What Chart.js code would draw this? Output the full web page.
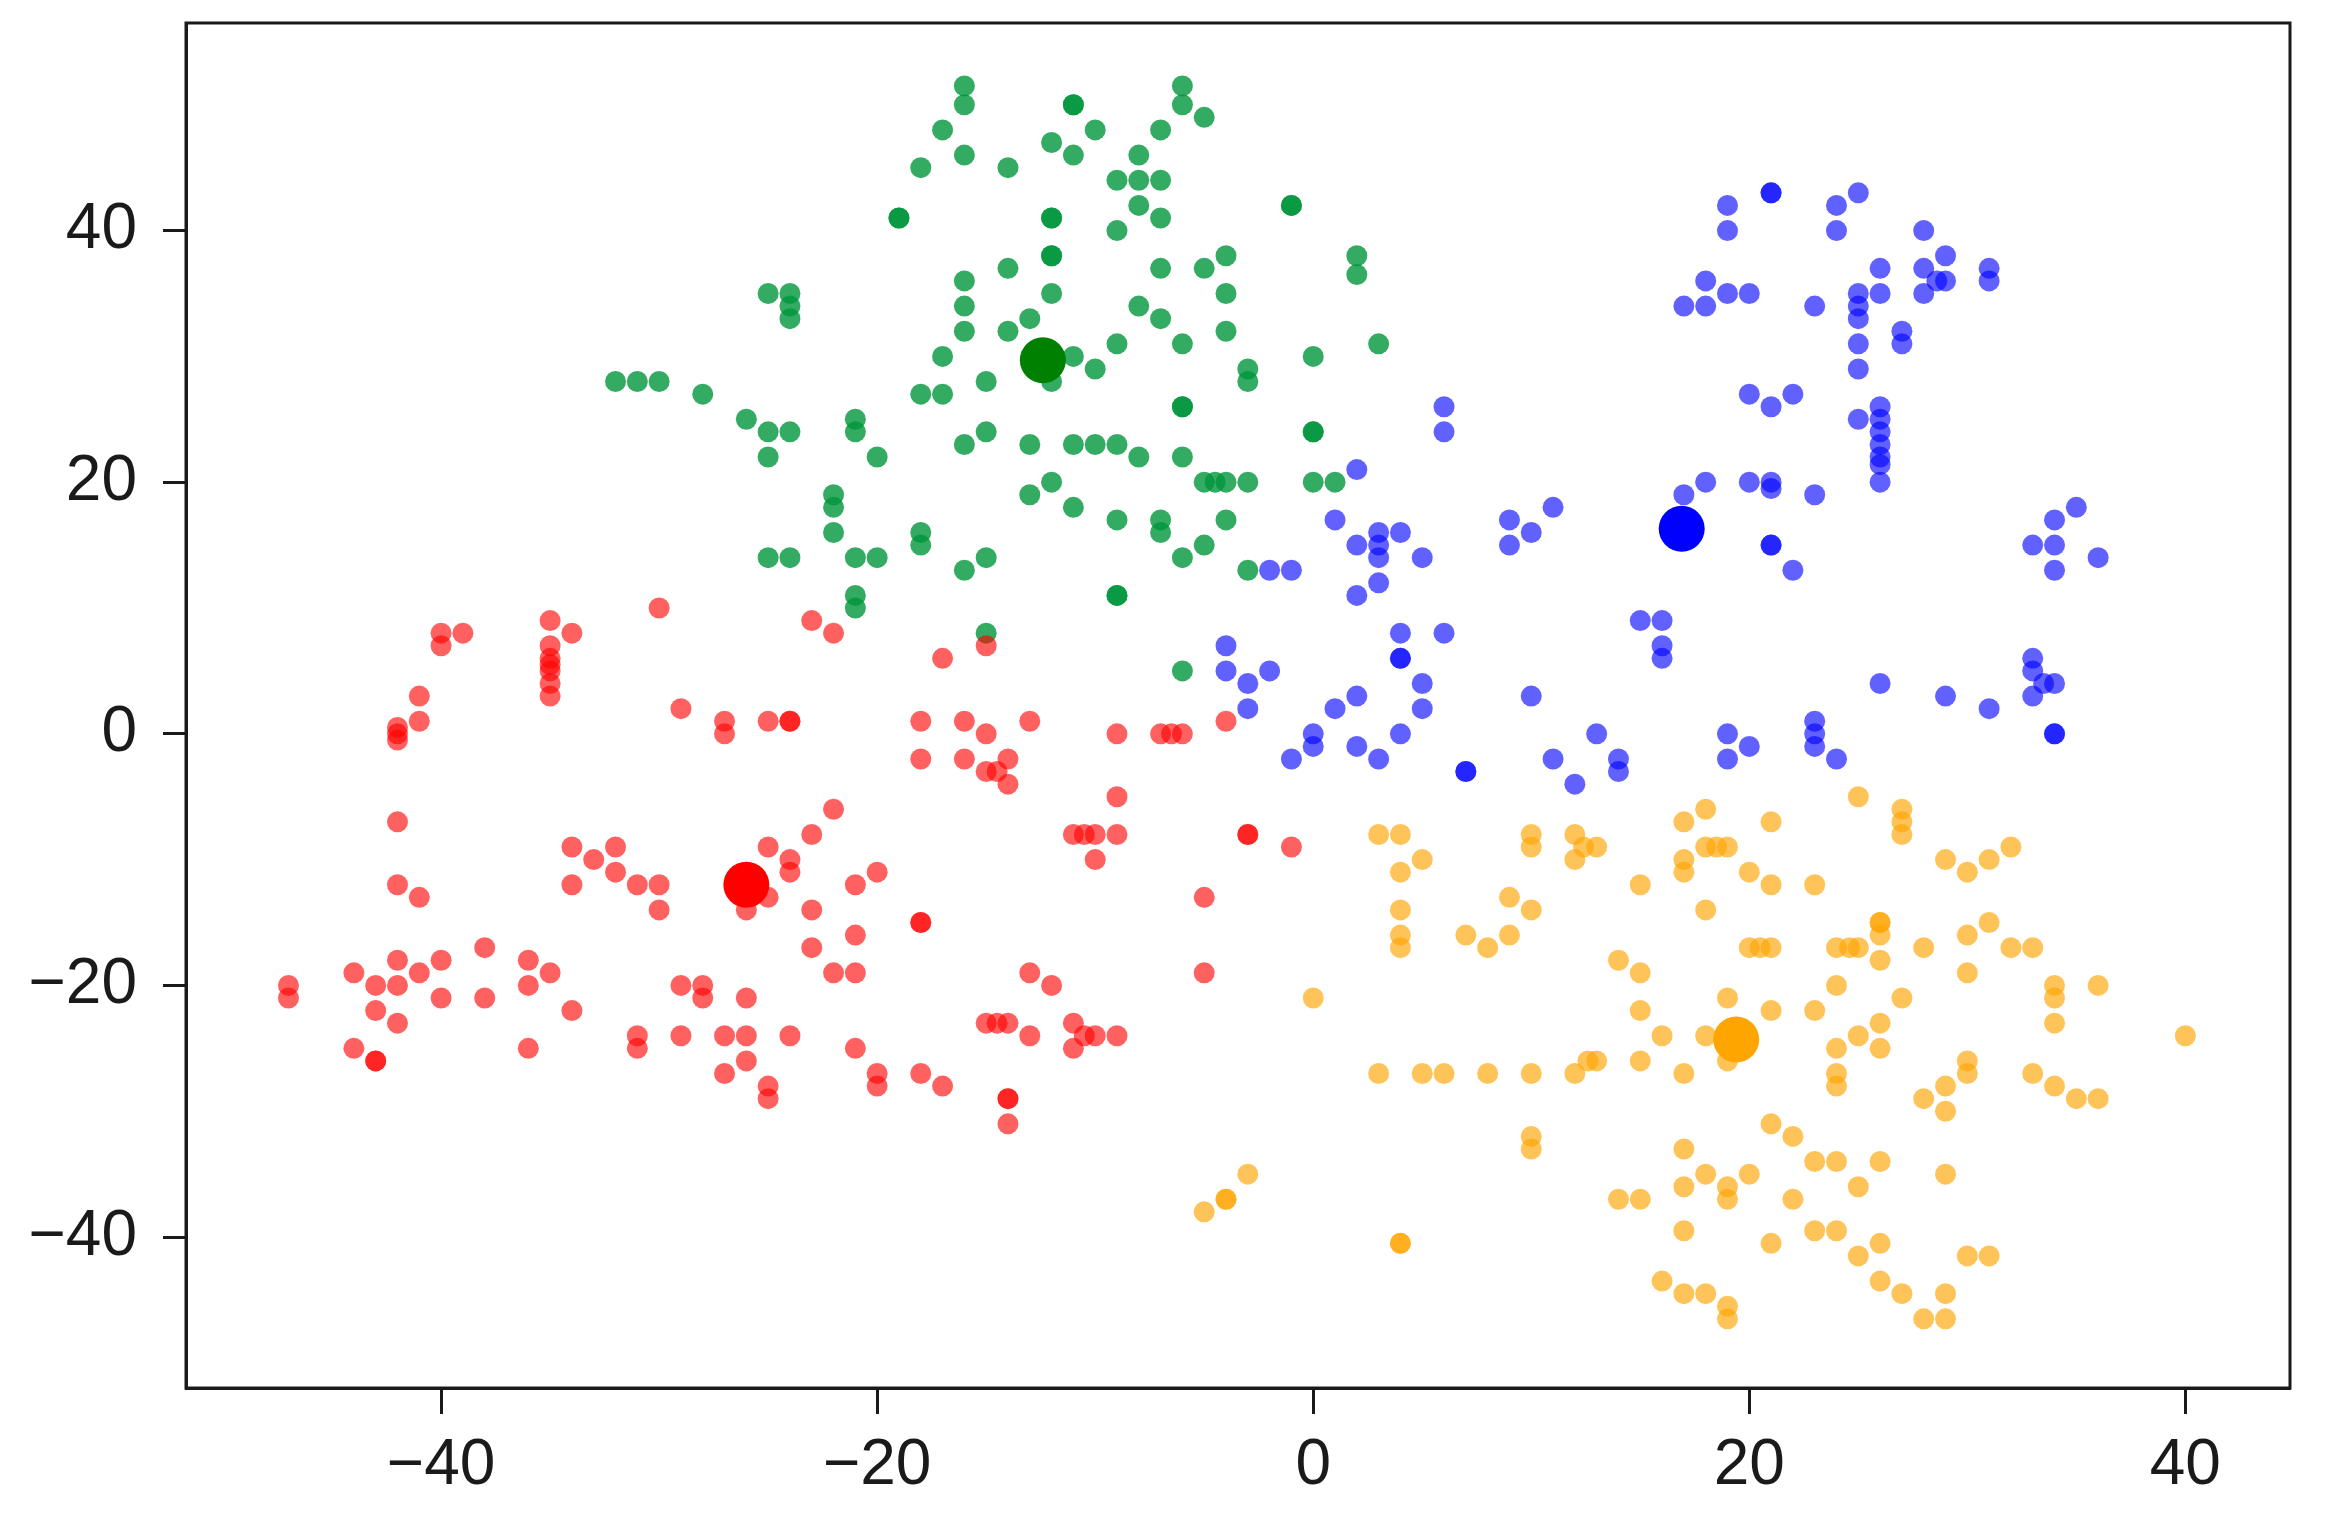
<!DOCTYPE html>
<html>
<head>
<meta charset="utf-8">
<script src="https://cdn.jsdelivr.net/npm/chart.js@4.4.1/dist/chart.umd.min.js"></script>
<style>
  html, body { margin: 0; padding: 0; background: #fff; }
  #wrap { width: 2328px; height: 1515px; }
</style>
</head>
<body>
<div id="wrap"><canvas id="scatter" width="2328" height="1515"></canvas></div>
<script>
// tick values on both axes
var xTicks = [-40, -20, 0, 20, 40];
var yTicks = [-40, -20, 0, 20, 40];

// cluster members, [x, y]
var redPoints = [
  [-30, 10], [-35, 9], [-34, 8], [-35, 7], [-35, 6], [-35, 5.5], [-35, 5], [-35, 4], [-35, 3],
  [-40, 8], [-39, 8], [-40, 7], [-41, 3], [-41, 1], [-42, 0.5], [-42, 0], [-42, -0.5],
  [-29, 2], [-27, 1], [-27, 0], [-25, 1], [-24, 1], [-24, 1], [-23, 9], [-22, 8],
  [-42, -7], [-22, -6], [-23, -8], [-25, -9], [-24, -10], [-24, -11], [-25, -13], [-26, -14],
  [-23, -14], [-21, -12], [-20, -11], [-21, -16], [-34, -9], [-33, -10], [-32, -9], [-34, -12],
  [-32, -11], [-31, -12], [-30, -12], [-30, -14], [-42, -12], [-41, -13],
  [-47, -20], [-47, -21], [-44, -19], [-43, -20], [-42, -18], [-42, -20], [-41, -19], [-40, -18],
  [-38, -17], [-43, -22], [-42, -23], [-40, -21], [-38, -21], [-36, -18], [-35, -19], [-36, -20],
  [-34, -22], [-44, -25], [-43, -26], [-43, -26], [-36, -25], [-31, -24], [-31, -25], [-29, -20],
  [-28, -20], [-28, -21], [-26, -21], [-29, -24], [-27, -24], [-26, -24], [-24, -24], [-26, -26],
  [-27, -27], [-25, -28], [-25, -29], [-23, -17], [-22, -19], [-21, -19], [-21, -25], [-20, -27], [-20, -28],
  [-15, 7], [-17, 6], [-18, 1], [-16, 1], [-15, 0], [-13, 1], [-18, -2], [-16, -2], [-15, -3],
  [-14.5, -3], [-14, -2], [-14, -4], [-9, 0], [-7, 0], [-6.5, 0], [-6, 0], [-4, 1], [-9, -5],
  [-11, -8], [-10.5, -8], [-10, -8], [-9, -8], [-10, -10], [-3, -8], [-3, -8], [-1, -9], [-5, -13],
  [-18, -15], [-18, -15],
  [-13, -19], [-12, -20], [-5, -19], [-15, -23], [-14.5, -23], [-14, -23], [-13, -24], [-11, -23],
  [-11, -25], [-10, -24], [-10.5, -24], [-9, -24], [-18, -27], [-17, -28], [-14, -29], [-14, -29], [-14, -31]
];

var greenPoints = [
  [-16, 51.5], [-16, 50], [-11, 50], [-11, 50], [-6, 51.5], [-6, 50], [-5, 49], [-17, 48], [-10, 48],
  [-7, 48], [-12, 47], [-16, 46], [-11, 46], [-8, 46], [-18, 45], [-14, 45], [-9, 44], [-8, 44], [-7, 44],
  [-8, 42], [-7, 41], [-9, 40], [-1, 42], [-1, 42], [-19, 41], [-19, 41], [-12, 41], [-12, 41],
  [-12, 38], [-12, 38], [-14, 37], [-7, 37], [-5, 37], [-4, 38], [2, 38], [2, 36.5], [-16, 36],
  [-12, 35], [-4, 35], [-8, 34], [-16, 34], [-7, 33], [-13, 33], [-16, 32], [-14, 32], [-4, 32],
  [3, 31], [-9, 31], [-6, 31], [-17, 30], [-11, 30], [-10, 29], [-12, 28], [0, 30], [-3, 29], [-3, 28],
  [-15, 28], [-18, 27], [-17, 27], [-6, 26], [-6, 26], [0, 24], [0, 24], [-15, 24], [-16, 23],
  [-13, 23], [-11, 23], [-10, 23], [-9, 23], [-8, 22], [-6, 22],
  [-25, 35], [-24, 35], [-24, 34], [-24, 33], [-32, 28], [-31, 28], [-30, 28], [-28, 27], [-26, 25],
  [-25, 24], [-24, 24], [-25, 22], [-21, 25], [-21, 24], [-20, 22],
  [-22, 19], [-22, 18], [-22, 16], [-25, 14], [-24, 14], [-21, 14], [-20, 14], [-21, 11], [-21, 10],
  [-12, 20], [-13, 19], [-11, 18], [-9, 17], [-7, 17], [-7, 16], [-4, 17], [-5, 15], [-6, 14], [-3, 13],
  [-18, 16], [-18, 15], [-15, 14], [-16, 13], [-9, 11], [-9, 11], [-15, 8], [-6, 5],
  [-5, 20], [-4.5, 20], [-4, 20], [-3, 20], [0, 20], [1, 20]
];

var bluePoints = [
  [6, 26], [6, 24], [2, 21], [1, 17], [3, 16], [4, 16], [2, 15], [3, 15], [3, 14], [5, 14], [3, 12],
  [2, 11], [-2, 13], [-1, 13], [9, 17], [9, 15], [10, 16], [11, 18], [4, 8], [6, 8], [4, 6], [4, 6],
  [5, 4], [5, 2], [2, 3], [1, 2], [4, 0], [-4, 7], [-4, 5], [-3, 4], [-2, 5], [-3, 2], [0, 0], [0, -1],
  [-1, -2], [2, -1], [3, -2], [7, -3], [7, -3], [10, 3], [11, -2], [12, -4], [13, 0],
  [19, 42], [19, 40], [21, 43], [21, 43], [24, 42], [25, 43], [24, 40], [28, 40], [18, 36], [19, 35],
  [20, 35], [17, 34], [18, 34], [23, 34], [25, 35], [25, 34], [25, 33], [26, 37], [26, 35], [28, 37],
  [29, 38], [28, 35], [29, 36], [28.6, 36], [31, 37], [31, 36], [25, 31], [25, 29], [27, 32], [27, 31],
  [20, 27], [21, 26], [22, 27], [25, 25], [26, 26], [26, 25], [26, 24], [26, 23], [26, 22], [26, 21.4],
  [18, 20], [20, 20], [21, 20], [21, 19.5], [17, 19], [21, 15], [21, 15], [22, 13], [23, 19], [26, 20],
  [35, 18], [34, 17], [33, 15], [34, 15], [34, 13], [36, 14], [15, 9], [16, 9], [16, 7], [16, 6],
  [26, 4], [29, 3], [31, 2], [33, 6], [33, 5], [33, 3], [34, 4], [33.5, 4], [34, 0], [34, 0],
  [14, -2], [14, -3], [19, 0], [19, -2], [20, -1], [23, 1], [23, 0], [23, -1], [24, -2]
];

var orangePoints = [
  [3, -8], [4, -8], [5, -10], [4, -11], [10, -8], [10, -9], [12, -8], [12, -10], [12.4, -9], [9, -13],
  [10, -14], [4, -14],
  [0, -21], [3, -27], [5, -27], [6, -27], [8, -27], [10, -27], [12, -27], [12.6, -26], [10, -32],
  [10, -33], [-3, -35], [-4, -37], [-4, -37], [-5, -38], [4, -40.5], [4, -40.5], [4, -16], [4, -17],
  [7, -16], [8, -17], [9, -16],
  [25, -5], [27, -6], [27, -7], [27, -8], [18, -6], [17, -7], [21, -7], [13, -9], [18, -9], [18.5, -9],
  [19, -9], [17, -10], [17, -11], [20, -11], [21, -12], [23, -12], [15, -12], [18, -14], [29, -10],
  [30, -11], [31, -10], [32, -9], [26, -15], [26, -15], [31, -15],
  [20, -17], [20.5, -17], [21, -17], [24, -17], [24.6, -17], [25, -17], [26, -16], [26, -18], [28, -17],
  [30, -16], [30, -19], [32, -17], [33, -17], [34, -20], [34, -21], [34, -23], [36, -20], [40, -24],
  [14, -18], [15, -19], [15, -22], [16, -24], [19, -21], [21, -22], [23, -22], [24, -20], [27, -21],
  [18, -24], [19, -26], [13, -26], [15, -26], [17, -27], [24, -25], [25, -24], [26, -23], [26, -25],
  [24, -27], [24, -28], [30, -26], [30, -27], [29, -28], [28, -29], [29, -30], [33, -27], [34, -28],
  [35, -29], [36, -29], [21, -31], [22, -32], [23, -34], [24, -34], [26, -34], [25, -36], [29, -35],
  [17, -33], [18, -35], [19, -36], [19, -37], [20, -35], [14, -37], [15, -37], [17, -36], [22, -37],
  [17, -39.5], [21, -40.5], [23, -39.5], [24, -39.5], [25, -41.5], [26, -40.5], [30, -41.5], [31, -41.5],
  [16, -43.5], [17, -44.5], [18, -44.5], [19, -45.5], [19, -46.5], [26, -43.5], [27, -44.5], [29, -44.5],
  [28, -46.5], [29, -46.5]
];

// cluster centres
var centroids = [[-26, -12], [-12.4, 29.7], [16.9, 16.3], [19.4, -24.3]];
var centroidColors = ["#ff0000", "#008000", "#0000ff", "#ffa500"];

function toXY(list) {
  return list.map(function (p) { return { x: p[0], y: p[1] }; });
}

// matplotlib style minus sign
function tickLabel(v) {
  return v < 0 ? "\u2212" + Math.abs(v) : String(v);
}

// box around the plot area, like the spines
var framePlugin = {
  id: "frame",
  afterDatasetsDraw: function (chart) {
    var a = chart.chartArea;
    var ctx = chart.ctx;
    ctx.save();
    ctx.strokeStyle = "#1a1a1a";
    ctx.lineWidth = 3;
    ctx.strokeRect(a.left, a.top, a.right - a.left, a.bottom - a.top);
    ctx.restore();
  }
};

var tickFont = { family: "'Liberation Sans', 'DejaVu Sans', sans-serif", size: 64 };

var ctx = document.getElementById("scatter").getContext("2d");
new Chart(ctx, {
  type: "scatter",
  data: {
    datasets: [
      {
        label: "centres",
        data: toXY(centroids),
        backgroundColor: centroidColors,
        pointRadius: 23,
        borderWidth: 0
      },
      {
        label: "red",
        data: toXY(redPoints),
        backgroundColor: "rgba(255, 0, 0, 0.62)",
        pointRadius: 10.5,
        borderWidth: 0
      },
      {
        label: "green",
        data: toXY(greenPoints),
        backgroundColor: "rgba(0, 150, 60, 0.8)",
        pointRadius: 10.5,
        borderWidth: 0
      },
      {
        label: "blue",
        data: toXY(bluePoints),
        backgroundColor: "rgba(0, 0, 255, 0.62)",
        pointRadius: 10.5,
        borderWidth: 0
      },
      {
        label: "orange",
        data: toXY(orangePoints),
        backgroundColor: "rgba(255, 165, 0, 0.65)",
        pointRadius: 10.5,
        borderWidth: 0
      }
    ]
  },
  options: {
    responsive: false,
    animation: false,
    devicePixelRatio: 1,
    events: [],
    layout: { padding: { top: 20, right: 38, left: 0, bottom: 0 } },
    plugins: {
      legend: { display: false },
      tooltip: { enabled: false }
    },
    scales: {
      x: {
        type: "linear",
        min: -51.7,
        max: 44.8,
        afterBuildTicks: function (scale) {
          scale.ticks = xTicks.map(function (v) { return { value: v }; });
        },
        afterFit: function (scale) {
          scale.height = 127;
          scale.paddingLeft = 0;
          scale.paddingRight = 0;
        },
        ticks: {
          callback: tickLabel,
          font: tickFont,
          color: "#1a1a1a",
          padding: 14,
          maxRotation: 0,
          autoSkip: false
        },
        grid: {
          drawOnChartArea: false,
          drawTicks: true,
          tickLength: 26,
          tickWidth: 3,
          tickColor: "#1a1a1a"
        },
        border: { display: true, color: "#1a1a1a", width: 3 }
      },
      y: {
        type: "linear",
        min: -52,
        max: 56.5,
        afterBuildTicks: function (scale) {
          scale.ticks = yTicks.map(function (v) { return { value: v }; });
        },
        afterFit: function (scale) {
          scale.width = 186;
          scale.paddingTop = 0;
          scale.paddingBottom = 0;
        },
        ticks: {
          callback: tickLabel,
          font: tickFont,
          color: "#1a1a1a",
          padding: 26,
          autoSkip: false
        },
        grid: {
          drawOnChartArea: false,
          drawTicks: true,
          tickLength: 23,
          tickWidth: 3,
          tickColor: "#1a1a1a"
        },
        border: { display: true, color: "#1a1a1a", width: 3 }
      }
    }
  },
  plugins: [framePlugin]
});
</script>
</body>
</html>
